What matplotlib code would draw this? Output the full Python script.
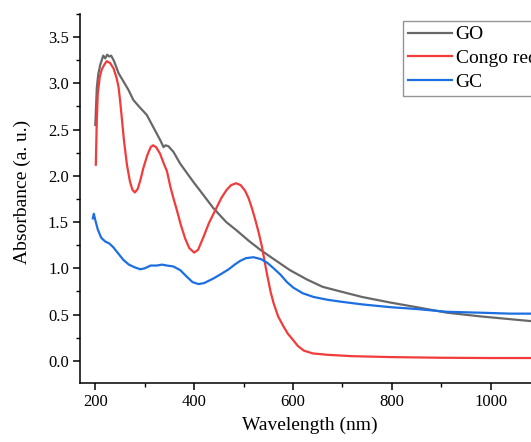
import matplotlib
matplotlib.use("Agg")
import matplotlib.pyplot as plt
from matplotlib.ticker import MultipleLocator

plt.rcParams['font.family'] = ['Liberation Serif', 'DejaVu Serif']

# GO spectrum
go_wl = [200, 203, 206, 210, 213, 216, 220, 224, 228, 232, 238, 247, 257, 267, 277,
         290, 304, 314, 324, 332, 338, 342, 348, 358, 372, 399, 412, 439, 465, 486,
         510, 534, 561, 594, 628, 660, 696, 740, 797, 850, 912, 980, 1040, 1100]
go_abs = [2.55, 2.95, 3.10, 3.20, 3.25, 3.30, 3.27, 3.31, 3.29, 3.30, 3.24, 3.11, 3.02,
          2.93, 2.82, 2.74, 2.66, 2.56, 2.46, 2.38, 2.31, 2.33, 2.32, 2.26, 2.13, 1.93,
          1.84, 1.65, 1.50, 1.41, 1.30, 1.20, 1.10, 0.98, 0.88, 0.80, 0.75, 0.69, 0.63,
          0.58, 0.52, 0.48, 0.45, 0.42]

# Congo red spectrum
cr_wl = [201, 203, 205, 209, 213, 218, 223, 230, 237, 243, 247, 250, 253, 258, 264,
         270, 275, 280, 286, 292, 297, 305, 312, 317, 323, 331, 338, 345, 352, 358,
         365, 373, 382, 390, 400, 408, 419, 430, 443, 455, 466, 475, 485, 494, 503,
         510, 517, 524, 530, 537, 547, 555, 561, 570, 581, 590, 598, 610, 622, 640,
         670, 720, 800, 900, 1000, 1100]
cr_abs = [2.12, 2.60, 2.89, 3.07, 3.15, 3.20, 3.24, 3.22, 3.16, 3.06, 2.96, 2.82, 2.66,
          2.38, 2.12, 1.94, 1.85, 1.82, 1.86, 1.97, 2.08, 2.22, 2.31, 2.33, 2.31, 2.24,
          2.14, 2.05, 1.88, 1.76, 1.63, 1.47, 1.32, 1.22, 1.17, 1.20, 1.34, 1.49, 1.63,
          1.76, 1.85, 1.90, 1.92, 1.90, 1.84, 1.76, 1.65, 1.52, 1.40, 1.24, 0.95, 0.74,
          0.62, 0.48, 0.37, 0.29, 0.24, 0.16, 0.11, 0.08, 0.065, 0.05, 0.04, 0.033,
          0.03, 0.03]

# GC spectrum
gc_wl = [195, 197, 200, 205, 212, 220, 228, 236, 245, 257, 268, 280, 291, 300, 312,
         324, 335, 345, 358, 372, 385, 397, 409, 420, 439, 455, 470, 482, 493, 505,
         520, 535, 548, 561, 575, 588, 601, 620, 642, 670, 696, 740, 797, 850, 912,
         980, 1040, 1100]
gc_abs = [1.54, 1.59, 1.52, 1.42, 1.33, 1.29, 1.27, 1.23, 1.17, 1.09, 1.04, 1.01, 0.99,
          1.00, 1.03, 1.03, 1.04, 1.03, 1.02, 0.98, 0.91, 0.85, 0.83, 0.84, 0.89, 0.94,
          0.99, 1.04, 1.08, 1.11, 1.12, 1.10, 1.06, 1.00, 0.93, 0.85, 0.79, 0.73, 0.69,
          0.66, 0.64, 0.61, 0.58, 0.56, 0.53, 0.52, 0.51, 0.51]

fig = plt.figure(figsize=(5.31, 4.42), dpi=100)
# axes runs past the right edge, like the cropped original
ax = fig.add_axes([80/531, 59/442, 460/531, 369/442])

ax.plot(go_wl, go_abs, color='#686868', lw=1.6, label='GO')
ax.plot(cr_wl, cr_abs, color='#f23b3b', lw=1.6, label='Congo red')
ax.plot(gc_wl, gc_abs, color='#1c6fe0', lw=1.6, label='GC')

ax.set_xlim(169, 1100)
ax.set_ylim(-0.24, 3.75)
ax.xaxis.set_major_locator(MultipleLocator(200))
ax.xaxis.set_minor_locator(MultipleLocator(100))
ax.yaxis.set_major_locator(MultipleLocator(0.5))
ax.yaxis.set_minor_locator(MultipleLocator(0.25))

ax.spines['top'].set_visible(False)
ax.spines['right'].set_visible(False)
for s in ('left', 'bottom'):
    ax.spines[s].set_linewidth(1.1)

ax.tick_params(which='major', direction='out', length=5, width=1.1, labelsize=12, pad=3)
ax.tick_params(which='minor', direction='out', length=3, width=1.0)

ax.set_xlabel('Wavelength (nm)', fontsize=14, labelpad=5)
ax.set_ylabel('Absorbance (a. u.)', fontsize=14)
ax.yaxis.set_label_coords(-0.106, 0.518)

fig.legend(loc='upper left', bbox_to_anchor=(403/531, 1 - 21/442), borderaxespad=0,
           fontsize=14, frameon=True, fancybox=False, edgecolor='#7a7a7a',
           handlelength=2.25, handletextpad=0.2, labelspacing=0.32, borderpad=0.25)
fig.legends[0].get_frame().set_linewidth(1.0)

fig.savefig('out.png', dpi=100)
